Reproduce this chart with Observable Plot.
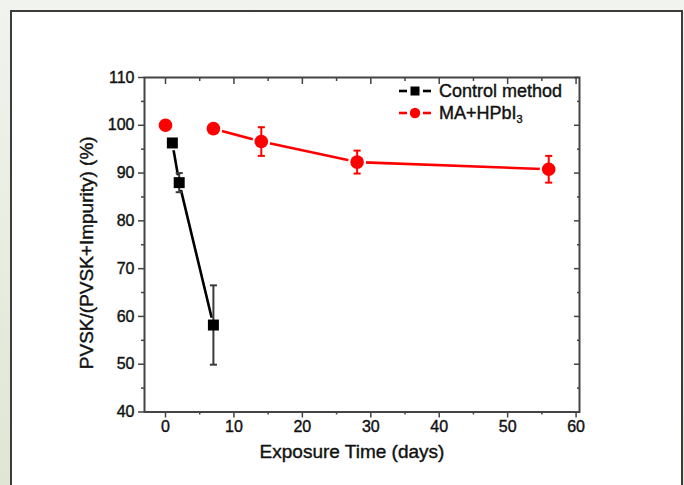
<!DOCTYPE html>
<html>
<head>
<meta charset="utf-8">
<script src="https://cdn.jsdelivr.net/npm/d3@7"></script>
<script src="https://cdn.jsdelivr.net/npm/@observablehq/plot@0.6"></script>
<style>
  html, body { margin: 0; padding: 0; }
  body {
    width: 684px; height: 485px; overflow: hidden; position: relative;
    background: linear-gradient(180deg, #f1f3ee 0%, #e9eee2 45%, #dfe6d3 100%);
    font-family: "Liberation Sans", Arial, sans-serif;
  }
  #frame {
    position: absolute; left: 10px; top: 10px; width: 669px; height: 490px;
    background: #fff; border: 2px solid #3c3c3c;
  }
  #chart { position: absolute; left: 0; top: 0; }
  #chart svg text { stroke: #111; stroke-width: 0.4px; }
  #legend {
    position: absolute; left: 398px; top: 80px; font-size: 18px; color: #111;
    line-height: 22px; -webkit-text-stroke: 0.4px #111;
  }
  #legend .row { display: flex; align-items: center; height: 22px; }
  #legend svg { margin-right: 5px; }
  #legend sub { font-size: 11px; vertical-align: -4px; line-height: 0; }
</style>
</head>
<body>
<div id="frame"></div>
<div id="chart"></div>
<div id="legend"></div>
<script>
// ---- data ----
const controlDays = [1, 2, 7];
const controlValues = [96.3, 88.0, 58.2];
const controlErrors = [0.8, 2.0, 8.3];

const maDays = [0, 7, 14, 28, 56];
const maValues = [100.0, 99.3, 96.6, 92.3, 90.8];
const maErrors = [0.5, 0.6, 3.0, 2.4, 2.8];

const xTicks = [0, 10, 20, 30, 40, 50, 60];
const xMinor = [5, 15, 25, 35, 45, 55];
const yTicks = [40, 50, 60, 70, 80, 90, 100, 110];
const yMinor = [45, 55, 65, 75, 85, 95, 105];

const seriesNames = ["Control method", "MA+HPbI"];
const xLabel = "Exposure Time (days)";
const yLabel = "PVSK/(PVSK+Impurity) (%)";

// ---- tables ----
const control = controlDays.map((d, i) => ({day: d, v: controlValues[i], e: controlErrors[i]}));
const ma = maDays.map((d, i) => ({day: d, v: maValues[i], e: maErrors[i]}));

const cap = {
  draw(context, size) {
    const r = Math.sqrt(size) / 2;
    context.moveTo(-r, 0);
    context.lineTo(r, 0);
  }
};

const RED = "#ff0000";
const BLACK = "#000000";
const ERRB = "#3a3a3a";

const chart = Plot.plot({
  width: 684,
  height: 485,
  marginLeft: 144,
  marginRight: 105,
  marginTop: 77,
  marginBottom: 73.5,
  style: {background: "transparent", fontFamily: "Liberation Sans, Arial, sans-serif", overflow: "visible"},
  x: {domain: [-3.07, 60.5]},
  y: {domain: [40, 110]},
  marks: [
    // axes
    Plot.axisX({ticks: xTicks, tickSize: 6, tickPadding: 3, fontSize: 16, label: null, stroke: "#444", strokeWidth: 1.5, color: "#111"}),
    Plot.axisX({ticks: xMinor, tickSize: 3, text: null, label: null, stroke: "#444", strokeWidth: 1.5}),
    Plot.axisX({anchor: "top", ticks: xTicks, tickSize: -6, text: null, label: null, stroke: "#444", strokeWidth: 1.5}),
    Plot.axisX({anchor: "top", ticks: xMinor, tickSize: -3, text: null, label: null, stroke: "#444", strokeWidth: 1.5}),
    Plot.axisY({ticks: yTicks, tickSize: 6, tickPadding: 4, fontSize: 16, label: null, stroke: "#444", strokeWidth: 1.5, color: "#111"}),
    Plot.axisY({ticks: yMinor, tickSize: 3, text: null, label: null, stroke: "#444", strokeWidth: 1.5}),
    Plot.axisY({anchor: "right", ticks: yTicks, tickSize: -6, text: null, label: null, stroke: "#444", strokeWidth: 1.5}),
    Plot.axisY({anchor: "right", ticks: yMinor, tickSize: -3, text: null, label: null, stroke: "#444", strokeWidth: 1.5}),
    Plot.frame({stroke: "#444", strokeWidth: 2}),
    // axis titles
    Plot.text([xLabel], {frameAnchor: "bottom", text: d => d, dy: 39.5, dx: -10, fontSize: 19, fill: "#111", lineAnchor: "middle"}),
    Plot.text([yLabel], {frameAnchor: "left", text: d => d, rotate: -90, dx: -58, dy: 8, fontSize: 19, fill: "#111", lineAnchor: "middle", textAnchor: "middle"}),
    // lines
    Plot.line(control, {x: "day", y: "v", stroke: BLACK, strokeWidth: 2.6}),
    Plot.line(ma.filter(d => d.day > 0), {x: "day", y: "v", stroke: RED, strokeWidth: 2.6}),
    // white halos (gap between line and marker)
    Plot.dot(control, {x: "day", y: "v", symbol: "square", r: 8.2, fill: "white"}),
    Plot.dot(ma, {x: "day", y: "v", symbol: "circle", r: 9, fill: "white"}),
    // error bars
    Plot.ruleX(control, {x: "day", y1: d => d.v - d.e, y2: d => d.v + d.e, stroke: ERRB, strokeWidth: 2}),
    Plot.dot(control, {x: "day", y: d => d.v - d.e, symbol: cap, r: 4, stroke: ERRB, strokeWidth: 2}),
    Plot.dot(control, {x: "day", y: d => d.v + d.e, symbol: cap, r: 4, stroke: ERRB, strokeWidth: 2}),
    Plot.ruleX(ma, {x: "day", y1: d => d.v - d.e, y2: d => d.v + d.e, stroke: RED, strokeWidth: 2}),
    Plot.dot(ma.filter(d => d.e > 1), {x: "day", y: d => d.v - d.e, symbol: cap, r: 4, stroke: RED, strokeWidth: 2}),
    Plot.dot(ma.filter(d => d.e > 1), {x: "day", y: d => d.v + d.e, symbol: cap, r: 4, stroke: RED, strokeWidth: 2}),
    // markers
    Plot.dot(control, {x: "day", y: "v", symbol: "square", r: 6.2, fill: BLACK}),
    Plot.dot(ma, {x: "day", y: "v", symbol: "circle", r: 6.8, fill: RED})
  ]
});
document.getElementById("chart").appendChild(chart);

// ---- legend ----
const legend = document.getElementById("legend");
function legendRow(color, shape, labelHtml) {
  const row = document.createElement("div");
  row.className = "row";
  const sym = shape === "square"
    ? `<rect x="12.5" y="3.5" width="9" height="9" fill="${color}"/>`
    : `<circle cx="17" cy="8" r="5.2" fill="${color}"/>`;
  row.innerHTML = `<svg width="36" height="16" viewBox="0 0 36 16">
      <line x1="1" y1="8" x2="9" y2="8" stroke="${color}" stroke-width="2.6"/>
      <line x1="25" y1="8" x2="33" y2="8" stroke="${color}" stroke-width="2.6"/>
      ${sym}</svg><span>${labelHtml}</span>`;
  legend.appendChild(row);
}
legendRow(BLACK, "square", seriesNames[0]);
legendRow(RED, "circle", seriesNames[1] + "<sub>3</sub>");
</script>
</body>
</html>
